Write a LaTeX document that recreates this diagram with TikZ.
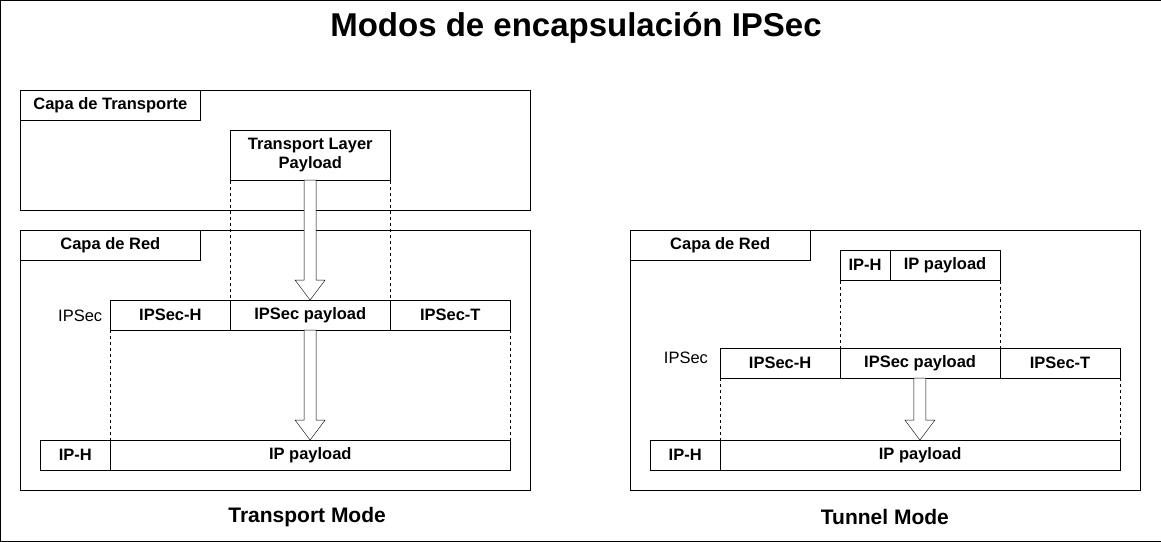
\documentclass[tikz,border=0pt]{standalone}
\usepackage{fontspec}
\setmainfont{Liberation Sans}
\usetikzlibrary{positioning}
\tikzset{
  cell/.style={draw, fill=white, anchor=north west, inner sep=0pt, minimum height=30pt, font=\fontsize{16.5}{19}\selectfont\bfseries, align=center},
  layer/.style={draw, anchor=north west, inner sep=0pt},
  guide/.style={dashed, thin},
  caption/.style={font=\fontsize{21}{24}\selectfont\bfseries},
}
% hollow down arrow: x, top y, bottom y
\newcommand{\downarrowbox}[3]{%
  \draw[fill=white] (#1-6,#2) -- (#1+6,#2) -- (#1+6,#3-20) -- (#1+15,#3-20)
    -- (#1,#3) -- (#1-15,#3-20) -- (#1-6,#3-20) -- cycle;}
\begin{document}
\begin{tikzpicture}[x=1pt,y=-1pt]
\draw (0,0) rectangle (1161,541);
\node[font=\fontsize{33}{36}\selectfont\bfseries] (title) at (576,28) {Modos de encapsulación IPSec};

% Transport mode
\node[layer, minimum width=510pt, minimum height=120pt] (transp) at (20,90) {};
\node[cell, minimum width=180pt, anchor=north west] (transptab) at (20,90) {Capa de Transporte};
\node[cell, minimum width=160pt, minimum height=50pt] (tlp) at (230,130) {Transport Layer\\Payload};
\node[layer, minimum width=510pt, minimum height=260pt] (redL) at (20,230) {};
\node[cell, minimum width=180pt] (redLtab) at (20,230) {Capa de Red};

\node[cell, minimum width=120pt] (ipsechL) at (110,300) {IPSec-H};
\node[cell, minimum width=160pt] (ipsecpL) at (230,300) {IPSec payload};
\node[cell, minimum width=120pt] (ipsectL) at (390,300) {IPSec-T};
\node[font=\fontsize{16.5}{19}\selectfont] (ipsecL) at (80,316) {IPSec};
\node[cell, minimum width=70pt] (iphL) at (40,440) {IP-H};
\node[cell, minimum width=400pt] (ippL) at (110,440) {IP payload};

\draw[guide] (tlp.south west) -- (ipsecpL.north west);
\draw[guide] (tlp.south east) -- (ipsecpL.north east);
\draw[guide] (ipsechL.south west) -- (ippL.north west);
\draw[guide] (ipsectL.south east) -- (ippL.north east);
\downarrowbox{310}{180}{300}
\downarrowbox{310}{330}{440}
\node[caption] (tm) at (307,517) {Transport Mode};

% Tunnel mode
\node[layer, minimum width=510pt, minimum height=260pt] (redR) at (630,230) {};
\node[cell, minimum width=180pt] (redRtab) at (630,230) {Capa de Red};
\node[cell, minimum width=50pt] (iphin) at (840,250) {IP-H};
\node[cell, minimum width=110pt] (ippin) at (890,250) {IP payload};
\node[cell, minimum width=120pt] (ipsechR) at (720,348) {IPSec-H};
\node[cell, minimum width=160pt] (ipsecpR) at (840,348) {IPSec payload};
\node[cell, minimum width=120pt] (ipsectR) at (1000,348) {IPSec-T};
\node[font=\fontsize{16.5}{19}\selectfont] (ipsecR) at (686,358) {IPSec};
\node[cell, minimum width=70pt] (iphR) at (650,440) {IP-H};
\node[cell, minimum width=400pt] (ippR) at (720,440) {IP payload};

\draw[guide] (iphin.south west) -- (ipsecpR.north west);
\draw[guide] (ippin.south east) -- (ipsecpR.north east);
\draw[guide] (ipsechR.south west) -- (ippR.north west);
\draw[guide] (ipsectR.south east) -- (ippR.north east);
\downarrowbox{920}{378}{440}
\node[caption] (tun) at (885,517) {Tunnel Mode};
\end{tikzpicture}
\end{document}
